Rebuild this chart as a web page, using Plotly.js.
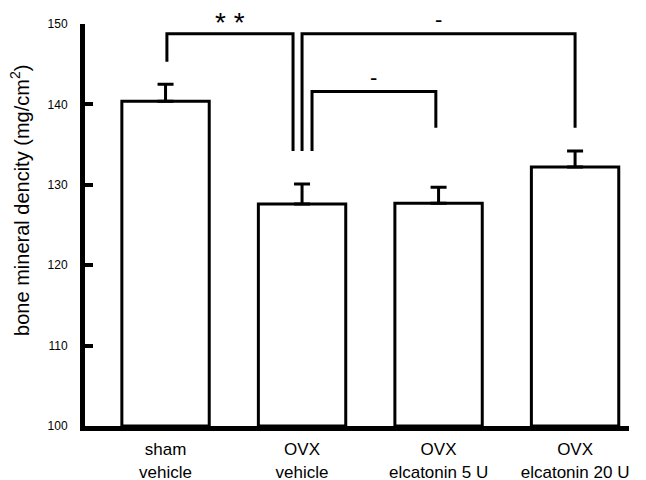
<!DOCTYPE html>
<html>
<head>
<meta charset="utf-8">
<script src="https://cdn.plot.ly/plotly-3.0.1.min.js"></script>
<style>html,body{margin:0;padding:0;background:#fff}#chart{width:646px;height:480px}</style>
</head>
<body>
<div id="chart"></div>
<script>
const categories = ["sham<br>vehicle", "OVX<br>vehicle", "OVX<br>elcatonin 5 U", "OVX<br>elcatonin 20 U"];
const means = [140.4, 127.6, 127.7, 132.2];
const errors = [2.1, 2.5, 2.0, 2.0];
const yTicks = [100, 110, 120, 130, 140, 150];
const yTitle = 'bone mineral dencity (mg/cm<sup>2</sup>)';
// significance brackets
const brFrom = [0, 1, 1];
const brTo = [1, 3, 2];
const brFromOff = [0.01, 0.0, 0.073];
const brToOff = [-0.066, 0.0, -0.02];
const brTop = [148.8, 148.8, 141.6];
const brFromBottom = [145.3, 134.2, 134.2];
const brToBottom = [134.2, 137.1, 137.1];
const brLabels = ["* *", "-", "-"];
const brLabelY = [152.4, 152.4, 145.2];

const Y0 = 100, Y1 = 150;
const xs = categories.map((c, i) => i);

const shapes = brFrom.map((f, k) => {
  const x1 = f + brFromOff[k], x2 = brTo[k] + brToOff[k];
  return {
    type: 'path', xref: 'x', yref: 'y',
    path: `M ${x1},${brFromBottom[k]} L ${x1},${brTop[k]} L ${x2},${brTop[k]} L ${x2},${brToBottom[k]}`,
    line: {color: 'black', width: 3}
  };
});

const annotations = brFrom.map((f, k) => ({
  xref: 'x', yref: 'paper',
  x: (f + brFromOff[k] + brTo[k] + brToOff[k]) / 2,
  y: (brLabelY[k] - Y0) / (Y1 - Y0),
  text: brLabels[k], showarrow: false,
  font: {family: 'Liberation Sans, Arial, sans-serif', size: k === 0 ? 28 : 22, color: 'black'}
}));
annotations.push({
  xref: 'paper', yref: 'paper', x: 0, xshift: -65, y: 0.56,
  xanchor: 'center', yanchor: 'middle', textangle: -90,
  text: yTitle, showarrow: false,
  font: {family: 'Liberation Sans, Arial, sans-serif', size: 20, color: 'black'}
});

const trace = {
  type: 'bar', x: xs, y: means.map(m => m - Y0), base: Y0,
  width: 0.64,
  marker: {color: 'white', line: {color: 'black', width: 3}},
  error_y: {type: 'data', array: errors, arrayminus: errors.map(() => 0), symmetric: false,
            color: 'black', thickness: 3, width: 8},
  hoverinfo: 'none'
};

const layout = {
  width: 646, height: 480,
  margin: {l: 85, r: 17, t: 24, b: 54},
  paper_bgcolor: 'white', plot_bgcolor: 'white',
  showlegend: false,
  font: {family: 'Liberation Sans, Arial, sans-serif', color: 'black'},
  xaxis: {
    range: [-0.59, 3.395], tickvals: xs, ticktext: categories,
    showgrid: false, zeroline: false, showline: true, linewidth: 5, linecolor: 'black',
    ticks: '', tickfont: {size: 17}, ticklabelstandoff: 4, fixedrange: true
  },
  yaxis: {
    range: [Y0, Y1], tickvals: yTicks, ticktext: yTicks.map(String),
    showgrid: false, zeroline: false, showline: true, linewidth: 5, linecolor: 'black',
    ticks: 'inside', ticklen: 8, tickwidth: 4, tickcolor: 'black',
    tickfont: {size: 12}, ticklabelstandoff: 10,
    fixedrange: true
  },
  shapes: shapes,
  annotations: annotations
};

Plotly.newPlot('chart', [trace], layout, {displayModeBar: false, staticPlot: true});
</script>
</body>
</html>
